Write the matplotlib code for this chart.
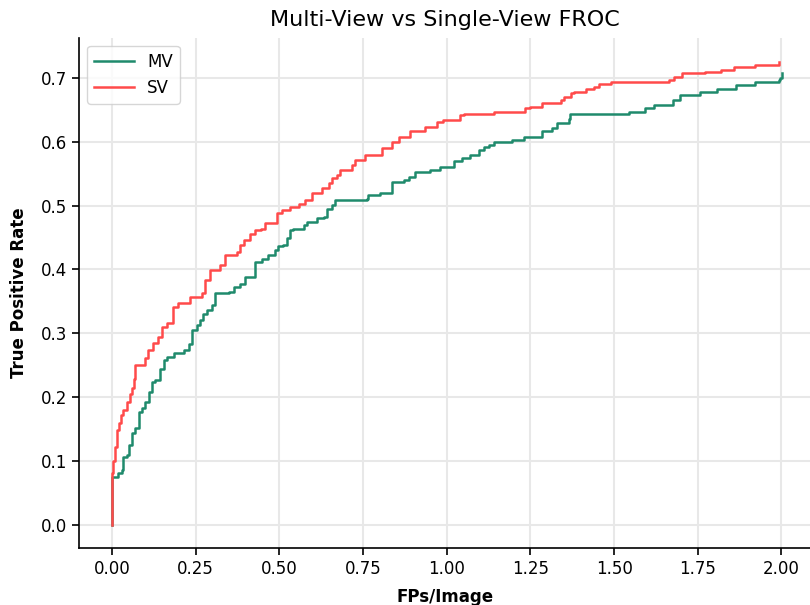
import matplotlib
matplotlib.use("Agg")
import matplotlib.pyplot as plt
import numpy as np

# FROC operating points: (false positives per image, sensitivity)
mv_fps = [0.000, 0.000, 0.009, 0.019, 0.029, 0.034, 0.044, 0.049, 0.059, 0.069,
          0.079, 0.089, 0.099, 0.109, 0.119, 0.129, 0.144, 0.154, 0.164, 0.184,
          0.214, 0.229, 0.239, 0.254, 0.263, 0.273, 0.283, 0.298, 0.308, 0.348,
          0.363, 0.383, 0.398, 0.427, 0.447, 0.467, 0.487, 0.497, 0.512, 0.522,
          0.532, 0.542, 0.572, 0.582, 0.612, 0.632, 0.642, 0.657, 0.667, 0.761,
          0.766, 0.801, 0.836, 0.871, 0.886, 0.906, 0.951, 0.981, 1.021, 1.046,
          1.070, 1.095, 1.110, 1.125, 1.140, 1.195, 1.230, 1.285, 1.315, 1.330,
          1.364, 1.369, 1.544, 1.593, 1.618, 1.676, 1.698, 1.758, 1.808, 1.863,
          1.922, 1.992, 1.997, 2.003]
mv_tpr = [0.000, 0.075, 0.076, 0.081, 0.086, 0.107, 0.110, 0.125, 0.144, 0.152,
          0.177, 0.183, 0.193, 0.209, 0.224, 0.227, 0.245, 0.258, 0.263, 0.269,
          0.274, 0.284, 0.305, 0.313, 0.321, 0.331, 0.336, 0.344, 0.363, 0.365,
          0.373, 0.378, 0.389, 0.412, 0.417, 0.423, 0.430, 0.436, 0.438, 0.449,
          0.462, 0.464, 0.469, 0.475, 0.480, 0.482, 0.495, 0.501, 0.509, 0.511,
          0.516, 0.519, 0.537, 0.540, 0.545, 0.553, 0.556, 0.561, 0.569, 0.574,
          0.579, 0.587, 0.592, 0.595, 0.600, 0.603, 0.608, 0.616, 0.621, 0.629,
          0.636, 0.644, 0.647, 0.652, 0.657, 0.665, 0.673, 0.678, 0.683, 0.689,
          0.694, 0.696, 0.700, 0.708]

sv_fps = [0.000, 0.000, 0.004, 0.009, 0.014, 0.020, 0.027, 0.032, 0.044, 0.052,
          0.059, 0.064, 0.069, 0.099, 0.108, 0.123, 0.138, 0.149, 0.165, 0.183,
          0.198, 0.234, 0.268, 0.278, 0.293, 0.323, 0.338, 0.373, 0.383, 0.393,
          0.413, 0.428, 0.446, 0.458, 0.493, 0.507, 0.532, 0.557, 0.577, 0.597,
          0.627, 0.647, 0.657, 0.672, 0.682, 0.717, 0.727, 0.757, 0.807, 0.836,
          0.856, 0.891, 0.936, 0.971, 0.990, 1.040, 1.050, 1.140, 1.235, 1.250,
          1.285, 1.340, 1.350, 1.370, 1.380, 1.415, 1.440, 1.455, 1.490, 1.663,
          1.678, 1.703, 1.773, 1.818, 1.858, 1.922, 1.992]
sv_tpr = [0.000, 0.081, 0.100, 0.122, 0.149, 0.160, 0.172, 0.180, 0.193, 0.205,
          0.214, 0.228, 0.250, 0.262, 0.274, 0.285, 0.295, 0.310, 0.316, 0.342,
          0.347, 0.357, 0.363, 0.383, 0.399, 0.407, 0.423, 0.428, 0.438, 0.446,
          0.456, 0.462, 0.464, 0.472, 0.488, 0.493, 0.498, 0.503, 0.509, 0.519,
          0.527, 0.535, 0.543, 0.548, 0.556, 0.563, 0.571, 0.579, 0.590, 0.600,
          0.608, 0.616, 0.623, 0.631, 0.634, 0.642, 0.644, 0.647, 0.652, 0.655,
          0.660, 0.665, 0.670, 0.676, 0.678, 0.683, 0.686, 0.691, 0.694, 0.696,
          0.701, 0.707, 0.709, 0.712, 0.717, 0.720, 0.725]

fig = plt.figure(figsize=(8.1, 6.05), dpi=100)
ax = fig.add_axes([0.0975, 0.094, 0.904, 0.844])

ax.step(mv_fps, mv_tpr, where="post", color="#1f8a6c", lw=1.8, label="MV")
ax.step(sv_fps, sv_tpr, where="post", color="#ff4a4a", lw=1.8, label="SV")

ax.set_xlim(-0.099, 2.089)
ax.set_ylim(-0.036, 0.763)

ax.grid(True, color="#e8e8e8", lw=1.5)
ax.set_axisbelow(True)
for side in ["top", "right"]:
    ax.spines[side].set_visible(False)
for side in ["left", "bottom"]:
    ax.spines[side].set_linewidth(1.2)

ax.set_xticks(np.arange(0, 2.01, 0.25))
ax.tick_params(labelsize=12, length=5, width=1.2)
ax.set_xlabel("FPs/Image", fontsize=12, fontweight="bold", labelpad=7)
ax.set_ylabel("True Positive Rate", fontsize=12, fontweight="bold", labelpad=9)
ax.set_title("Multi-View vs Single-View FROC", fontsize=16, pad=8)
ax.legend(loc="upper left", fontsize=12, borderaxespad=0.5, handlelength=2.4)

fig.savefig("out.png", dpi=100)
